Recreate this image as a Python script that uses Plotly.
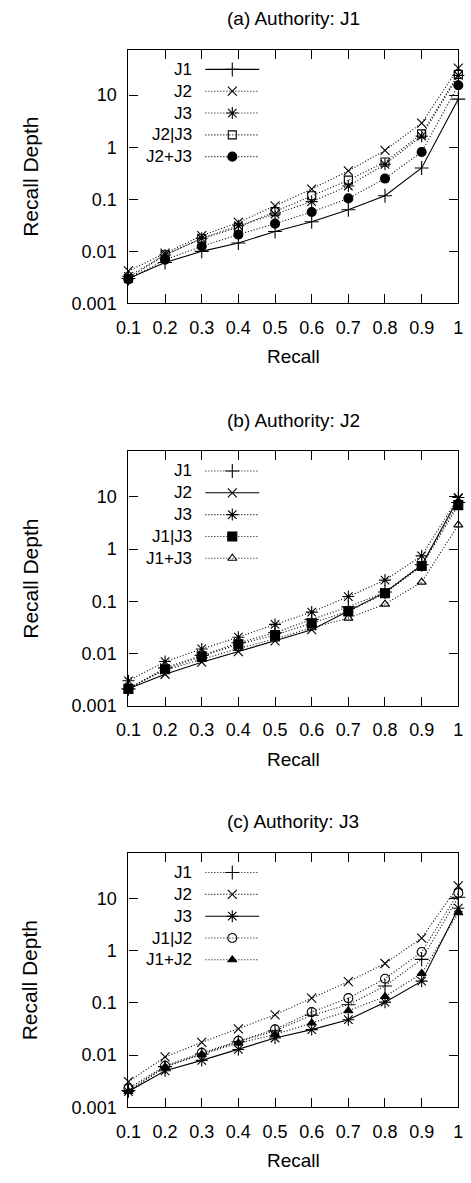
import plotly.graph_objects as go

# ---------------- data ----------------
recall = [0.1, 0.2, 0.3, 0.4, 0.5, 0.6, 0.7, 0.8, 0.9, 1.0]
recall_labels = ["0.1", "0.2", "0.3", "0.4", "0.5", "0.6", "0.7", "0.8", "0.9", "1"]
depth_ticks = [0.001, 0.01, 0.1, 1, 10]
depth_labels = ["0.001", "0.01", "0.1", "1", "10"]

# (a) Authority: J1
a_J1 = [0.0030, 0.0061, 0.0100, 0.0145, 0.024, 0.037, 0.063, 0.117, 0.40, 8.4]
a_J2 = [0.0042, 0.0092, 0.0200, 0.0360, 0.075, 0.157, 0.35, 0.87, 2.9, 33.0]
a_J3 = [0.0033, 0.0085, 0.0178, 0.0310, 0.052, 0.090, 0.18, 0.47, 1.63, 24.0]
a_J2orJ3 = [0.0030, 0.0086, 0.0175, 0.0290, 0.058, 0.117, 0.233, 0.52, 1.8, 25.0]
a_J2plusJ3 = [0.0029, 0.0069, 0.0125, 0.0210, 0.034, 0.057, 0.104, 0.25, 0.81, 15.5]

# (b) Authority: J2
b_J1 = [0.0021, 0.0053, 0.0092, 0.0160, 0.025, 0.045, 0.078, 0.150, 0.50, 7.8]
b_J2 = [0.0021, 0.0040, 0.0068, 0.0108, 0.0175, 0.0285, 0.064, 0.148, 0.49, 9.3]
b_J3 = [0.0030, 0.0070, 0.0122, 0.0205, 0.036, 0.062, 0.123, 0.254, 0.74, 9.7]
b_J1orJ3 = [0.0021, 0.0050, 0.0088, 0.0150, 0.0225, 0.038, 0.064, 0.142, 0.475, 6.95]
b_J1plusJ3 = [0.0022, 0.0048, 0.0077, 0.0125, 0.0190, 0.031, 0.0475, 0.088, 0.233, 2.9]

# (c) Authority: J3
c_J1 = [0.0021, 0.0060, 0.0105, 0.0180, 0.029, 0.058, 0.092, 0.21, 0.68, 10.5]
c_J2 = [0.0031, 0.0092, 0.0175, 0.0316, 0.059, 0.123, 0.254, 0.567, 1.74, 17.4]
c_J3 = [0.0020, 0.0050, 0.0079, 0.0128, 0.0212, 0.0307, 0.0475, 0.103, 0.26, 6.5]
c_J1orJ2 = [0.0023, 0.0062, 0.0110, 0.0187, 0.031, 0.0665, 0.123, 0.29, 0.94, 12.7]
c_J1plusJ2 = [0.0020, 0.0059, 0.0103, 0.0170, 0.0247, 0.041, 0.0706, 0.132, 0.366, 5.3]

# ---------------- styling ----------------
W, H = 471, 1183
FONT = "Liberation Sans, Arial, Helvetica, sans-serif"
BLACK = "#000000"
DOT = "1px,2px"

SYM = {
    "plus": dict(symbol="cross-thin-open", size=10),
    "x": dict(symbol="x-thin-open", size=9),
    "star": dict(symbol="asterisk-open", size=10),
    "sq_open": dict(symbol="square-open", size=8),
    "sq_fill": dict(symbol="square", size=9),
    "circ_fill": dict(symbol="circle", size=9),
    "circ_open": dict(symbol="circle-open", size=9),
    "tri_open": dict(symbol="triangle-up-open", size=8),
    "tri_fill": dict(symbol="triangle-up", size=8),
}

panels = [
    dict(title="(a) Authority: J1", top=50, bottom=306,
         series=[("J1", a_J1, "plus", "solid"),
                 ("J2", a_J2, "x", DOT),
                 ("J3", a_J3, "star", DOT),
                 ("J2|J3", a_J2orJ3, "sq_open", DOT),
                 ("J2+J3", a_J2plusJ3, "circ_fill", DOT)]),
    dict(title="(b) Authority: J2", top=455, bottom=711.7,
         series=[("J1", b_J1, "plus", DOT),
                 ("J2", b_J2, "x", "solid"),
                 ("J3", b_J3, "star", DOT),
                 ("J1|J3", b_J1orJ3, "sq_fill", DOT),
                 ("J1+J3", b_J1plusJ3, "tri_open", DOT)]),
    dict(title="(c) Authority: J3", top=860, bottom=1116.7,
         series=[("J1", c_J1, "plus", DOT),
                 ("J2", c_J2, "x", DOT),
                 ("J3", c_J3, "star", "solid"),
                 ("J1|J2", c_J1orJ2, "circ_open", DOT),
                 ("J1+J2", c_J1plusJ2, "tri_fill", DOT)]),
]

X_LEFT, X_RIGHT = 120, 463
x_dom = [X_LEFT / W, X_RIGHT / W]
x_center = (X_LEFT + X_RIGHT) / 2
Y_RANGE = [-3, 1.875]

minor_vals = [m * 10.0 ** e for e in range(-3, 2) for m in (2, 5)]

fig = go.Figure()
layout = dict(
    width=W, height=H,
    margin=dict(l=0, r=0, t=0, b=0),
    paper_bgcolor="white", plot_bgcolor="rgba(0,0,0,0)",
    showlegend=False,
    font=dict(family=FONT, color=BLACK, size=18),
)
annotations = []
shapes = []
axis_id = 4  # x4 / y4 reserved for legend overlay; extra axes start at 5

for i, p in enumerate(panels):
    n = "" if i == 0 else str(i + 1)
    xa, ya = "x" + n, "y" + n
    for name, vals, sym, dash in p["series"]:
        fig.add_trace(go.Scatter(
            x=recall, y=vals, mode="lines+markers", name=name,
            xaxis=xa, yaxis=ya, cliponaxis=False,
            line=dict(color=BLACK, width=1.1, dash=dash),
            marker=dict(color=BLACK, line=dict(color=BLACK, width=1.1), **SYM[sym]),
        ))
    y_dom = [1 - p["bottom"] / H, 1 - p["top"] / H]
    layout["xaxis" + n] = dict(
        domain=x_dom, anchor=ya, range=[0.1, 1.0],
        tickmode="array", tickvals=recall, ticktext=recall_labels,
        ticks="inside", ticklen=9, tickwidth=1, tickcolor=BLACK,
        showline=True, linecolor=BLACK, linewidth=1.3, mirror="ticks",
        showgrid=False, zeroline=False, ticklabelstandoff=8,
        tickfont=dict(size=18, family=FONT, color=BLACK),
    )
    layout["yaxis" + n] = dict(
        domain=y_dom, anchor=xa, type="log", range=Y_RANGE,
        tickmode="array", tickvals=depth_ticks, ticktext=depth_labels,
        ticks="inside", ticklen=9, tickwidth=1, tickcolor=BLACK,
        showline=True, linecolor=BLACK, linewidth=1.3, mirror="ticks",
        showgrid=False, zeroline=False, ticklabelstandoff=7,
        tickfont=dict(size=18, family=FONT, color=BLACK),
    )
    # minor ticks (2 and 5 of each decade) on left and right, via overlay axes
    for side in ("left", "right"):
        axis_id += 1
        layout["yaxis%d" % axis_id] = dict(
            overlaying=ya, anchor=xa, side=side, type="log", range=Y_RANGE,
            tickmode="array", tickvals=minor_vals, showticklabels=False,
            ticks="inside", ticklen=5, tickwidth=1, tickcolor=BLACK,
            showline=False, showgrid=False, zeroline=False, fixedrange=True,
        )
    top, bottom = p["top"], p["bottom"]
    annotations.append(dict(text=p["title"], x=x_center / W, y=1 - (top - 31) / H,
                            xref="paper", yref="paper", xanchor="center", yanchor="middle",
                            showarrow=False, font=dict(size=19, family=FONT, color=BLACK)))
    annotations.append(dict(text="Recall", x=x_center / W, y=1 - (bottom + 54) / H,
                            xref="paper", yref="paper", xanchor="center", yanchor="middle",
                            showarrow=False, font=dict(size=19, family=FONT, color=BLACK)))
    annotations.append(dict(text="Recall Depth", x=18 / W, y=1 - ((top + bottom) / 2) / H,
                            xref="paper", yref="paper", xanchor="center", yanchor="middle",
                            textangle=-90, showarrow=False,
                            font=dict(size=21, family=FONT, color=BLACK)))
    # manual legend (text left, sample right)
    for k, (name, vals, sym, dash) in enumerate(p["series"]):
        ry = top + 20 + 22 * k
        annotations.append(dict(text=name, x=188 / W, y=1 - ry / H,
                                xref="paper", yref="paper", xanchor="right", yanchor="middle",
                                showarrow=False, font=dict(size=17, family=FONT, color=BLACK)))
        shapes.append(dict(type="line", xref="paper", yref="paper",
                           x0=200 / W, x1=256 / W, y0=1 - ry / H, y1=1 - ry / H,
                           line=dict(color=BLACK, width=1.1, dash=dash)))
        fig.add_trace(go.Scatter(
            x=[228], y=[ry], mode="markers", xaxis="x4", yaxis="y4",
            hoverinfo="skip", cliponaxis=False,
            marker=dict(color=BLACK, line=dict(color=BLACK, width=1.1), **SYM[sym]),
        ))

layout["xaxis4"] = dict(domain=[0, 1], range=[0, W], visible=False, anchor="y4", fixedrange=True)
layout["yaxis4"] = dict(domain=[0, 1], range=[H, 0], visible=False, anchor="x4", fixedrange=True)
layout["annotations"] = annotations
layout["shapes"] = shapes
fig.update_layout(**layout)

fig.write_html("out.html")
